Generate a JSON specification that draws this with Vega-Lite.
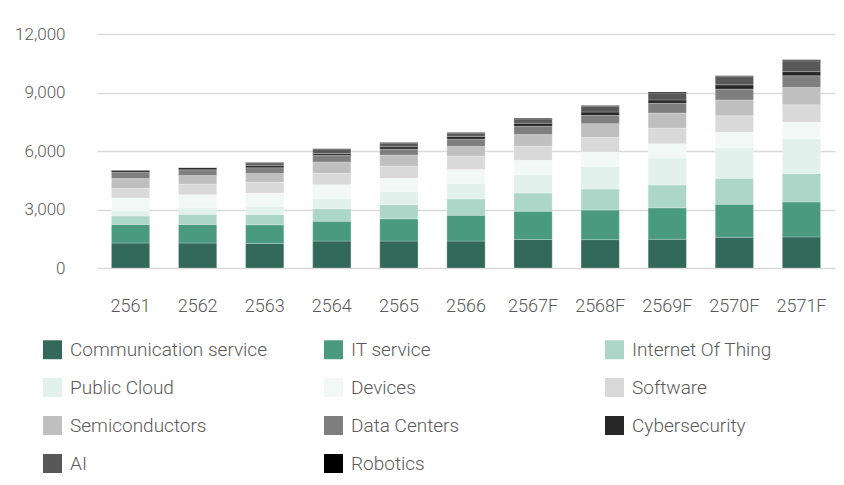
{
  "$schema": "https://vega.github.io/schema/vega-lite/v6.json",
  "width": 738,
  "height": 234,
  "autosize": {"type": "none"},
  "padding": {"left": 97, "top": 34, "right": 9, "bottom": 217},
  "background": "#ffffff",
  "config": {
    "view": {"stroke": null},
    "font": "Roboto"
  },
  "datasets": {
    "wide": [
      {"year": "2561", "Communication service": 1280, "IT service": 955, "Internet Of Thing": 430, "Public Cloud": 260, "Devices": 660, "Software": 500, "Semiconductors": 500, "Data Centers": 330, "Cybersecurity": 100, "AI": 0, "Robotics": 10},
      {"year": "2562", "Communication service": 1280, "IT service": 955, "Internet Of Thing": 520, "Public Cloud": 330, "Devices": 675, "Software": 535, "Semiconductors": 450, "Data Centers": 295, "Cybersecurity": 110, "AI": 0, "Robotics": 10},
      {"year": "2563", "Communication service": 1260, "IT service": 955, "Internet Of Thing": 535, "Public Cloud": 415, "Devices": 675, "Software": 555, "Semiconductors": 450, "Data Centers": 300, "Cybersecurity": 110, "AI": 135, "Robotics": 15},
      {"year": "2564", "Communication service": 1380, "IT service": 1020, "Internet Of Thing": 640, "Public Cloud": 500, "Devices": 730, "Software": 585, "Semiconductors": 585, "Data Centers": 345, "Cybersecurity": 90, "AI": 230, "Robotics": 15},
      {"year": "2565", "Communication service": 1380, "IT service": 1140, "Internet Of Thing": 730, "Public Cloud": 660, "Devices": 690, "Software": 620, "Semiconductors": 570, "Data Centers": 310, "Cybersecurity": 120, "AI": 190, "Robotics": 20},
      {"year": "2566", "Communication service": 1380, "IT service": 1320, "Internet Of Thing": 845, "Public Cloud": 780, "Devices": 725, "Software": 690, "Semiconductors": 490, "Data Centers": 380, "Cybersecurity": 140, "AI": 170, "Robotics": 25},
      {"year": "2567F", "Communication service": 1460, "IT service": 1450, "Internet Of Thing": 935, "Public Cloud": 935, "Devices": 740, "Software": 730, "Semiconductors": 590, "Data Centers": 430, "Cybersecurity": 155, "AI": 220, "Robotics": 30},
      {"year": "2568F", "Communication service": 1455, "IT service": 1520, "Internet Of Thing": 1075, "Public Cloud": 1155, "Devices": 745, "Software": 740, "Semiconductors": 710, "Data Centers": 430, "Cybersecurity": 170, "AI": 300, "Robotics": 35},
      {"year": "2569F", "Communication service": 1475, "IT service": 1610, "Internet Of Thing": 1175, "Public Cloud": 1385, "Devices": 725, "Software": 795, "Semiconductors": 780, "Data Centers": 505, "Cybersecurity": 170, "AI": 360, "Robotics": 40},
      {"year": "2570F", "Communication service": 1575, "IT service": 1695, "Internet Of Thing": 1335, "Public Cloud": 1575, "Devices": 780, "Software": 845, "Semiconductors": 815, "Data Centers": 555, "Cybersecurity": 220, "AI": 420, "Robotics": 45},
      {"year": "2571F", "Communication service": 1595, "IT service": 1795, "Internet Of Thing": 1455, "Public Cloud": 1800, "Devices": 830, "Software": 900, "Semiconductors": 880, "Data Centers": 605, "Cybersecurity": 210, "AI": 555, "Robotics": 55}
    ]
  },
  "data": {"name": "wide"},
  "transform": [
    {"fold": ["Communication service", "IT service", "Internet Of Thing", "Public Cloud", "Devices", "Software", "Semiconductors", "Data Centers", "Cybersecurity", "AI", "Robotics"], "as": ["cat", "value"]},
    {"window": [{"op": "row_number", "as": "seq"}], "groupby": ["year"]}
  ],
  "mark": {"type": "bar", "stroke": "#ffffff", "strokeWidth": 0.4, "strokeOpacity": 0.6},
  "encoding": {
    "x": {
      "field": "year", "type": "nominal", "sort": null,
      "scale": {"paddingInner": 0.43, "paddingOuter": 0.215},
      "axis": {"title": null, "labelAngle": 0, "ticks": false, "domain": false, "labelPadding": 29, "labelFontSize": 18, "labelColor": "#595959", "labelFont": "Roboto", "labelFontWeight": 300}
    },
    "y": {
      "field": "value", "type": "quantitative", "stack": "zero",
      "scale": {"domain": [0, 12000], "nice": false},
      "axis": {"title": null, "values": [0, 3000, 6000, 9000, 12000], "format": ",.0f", "ticks": false, "domain": false, "labelPadding": 32, "labelFontSize": 17, "labelColor": "#595959", "labelFont": "Roboto", "labelFontWeight": 300, "gridColor": "#d9d9d9", "gridWidth": 1.5}
    },
    "order": {"field": "seq", "type": "quantitative", "sort": "ascending"},
    "color": {
      "field": "cat", "type": "nominal",
      "sort": ["Communication service", "IT service", "Internet Of Thing", "Public Cloud", "Devices", "Software", "Semiconductors", "Data Centers", "Cybersecurity", "AI", "Robotics"],
      "scale": {
        "domain": ["Communication service", "IT service", "Internet Of Thing", "Public Cloud", "Devices", "Software", "Semiconductors", "Data Centers", "Cybersecurity", "AI", "Robotics"],
        "range": ["#336958", "#4a9a80", "#acd6c8", "#e2f1ec", "#f1f8f5", "#d9d9d9", "#bfbfbf", "#7f7f7f", "#262626", "#585858", "#000000"]
      },
      "legend": {
        "title": null, "orient": "none", "legendX": -54, "legendY": 306,
        "direction": "horizontal", "columns": 3, "gridAlign": "all",
        "columnPadding": 57, "rowPadding": 18,
        "symbolType": "square", "symbolSize": 360, "symbolStrokeWidth": 0,
        "labelFontSize": 19, "labelColor": "#595959", "labelFont": "Roboto", "labelFontWeight": 300,
        "labelOffset": 8, "labelLimit": 300
      }
    }
  }
}
